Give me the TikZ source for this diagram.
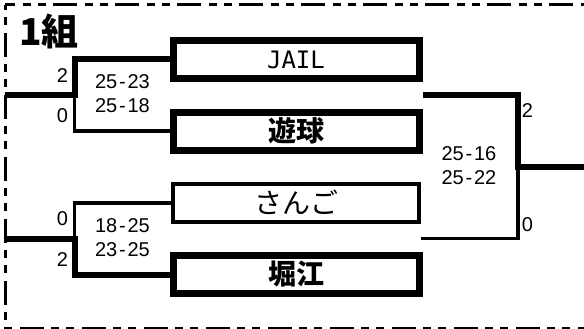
\documentclass[tikz,border=0pt]{standalone}
\usepackage{fontspec}
\setmainfont{Liberation Sans}
\newfontfamily\jpfont{Noto Sans CJK JP}
\newfontfamily\jailfont{DejaVu Sans Mono}
\newcommand{\setsc}[2]{#1\kern1.8pt-\kern1.8pt#2}

\begin{document}
\begin{tikzpicture}[x=1pt,y=-1pt,
	thickbox/.style={draw,line width=7pt,minimum width=246pt,minimum height=38pt,inner sep=0pt},
	thinbox/.style={draw,line width=4pt,minimum width=246pt,minimum height=38pt,inner sep=0pt},
	jptext/.style={font=\jpfont\fontsize{28}{28}\selectfont},
	jpbold/.style={font=\jpfont\bfseries\fontsize{28}{28}\selectfont},
	winline/.style={line width=6pt},
	loseline/.style={line width=3.5pt},
	setnum/.style={inner sep=0pt,font=\fontsize{20}{20}\selectfont},
	games/.style={inner sep=0pt,align=center,font=\fontsize{20}{24}\selectfont}]
	\useasboundingbox (0,0) rectangle (584,329);
	% draw frame
	\draw[line width=3pt,dash pattern=on 24pt off 7pt on 8pt off 7pt on 8pt off 8pt,dash phase=34pt] (5,5) rectangle (600,328);
	\node[anchor=base west,inner sep=0pt,font=\jpfont\bfseries\fontsize{37}{37}\selectfont] (group) at (19,45.5) {1組};
	% draw teams
	\node[thickbox,font=\jailfont\fontsize{24}{24}\selectfont] (jail) at (296,59.5) {JAIL};
	\node[thickbox,jpbold] (yuukyuu) at (296,131) {\raisebox{3pt}{遊球}};
	\node[thinbox,jptext] (sango) at (296,203) {\raisebox{2pt}{さんご}};
	\node[thickbox,jpbold] (horie) at (296,274.5) {\raisebox{2pt}{堀江}};
	% junctions
	\coordinate (ua) at (74.5,95.5);
	\coordinate (ui) at (5,95.5);
	\coordinate (la) at (74.5,238.5);
	\coordinate (li) at (5,238.5);
	\coordinate (fa) at (518,167);
	\coordinate (fo) at (590,167);
	% draw first round
	\draw[loseline] (yuukyuu.west) -| (ua);
	\draw[winline] (jail.west) -| (ua) -- (ui);
	\draw[loseline] (sango.west) -| (la);
	\draw[winline] (horie.west) -| (la) -- (li);
	% draw final
	\draw[loseline] (sango.east |- la) -| (fa);
	\draw[winline] (jail.east |- ua) -| (fa) -- (fo);
	% scores
	\node[setnum] (ua1) at (62.5,75.5) {2};
	\node[setnum] (ua2) at (62.5,116) {0};
	\node[games] (ug) at (122.5,93.5) {\setsc{25}{23}\\\setsc{25}{18}};
	\node[setnum] (la1) at (62.5,218.5) {0};
	\node[setnum] (la2) at (62.5,259.5) {2};
	\node[games] (lg) at (122.5,237.3) {\setsc{18}{25}\\\setsc{23}{25}};
	\node[setnum] (fa1) at (527.5,110.5) {2};
	\node[setnum] (fa2) at (527.5,225) {0};
	\node[games] (fg) at (469,166) {\setsc{25}{16}\\\setsc{25}{22}};
\end{tikzpicture}
\end{document}
